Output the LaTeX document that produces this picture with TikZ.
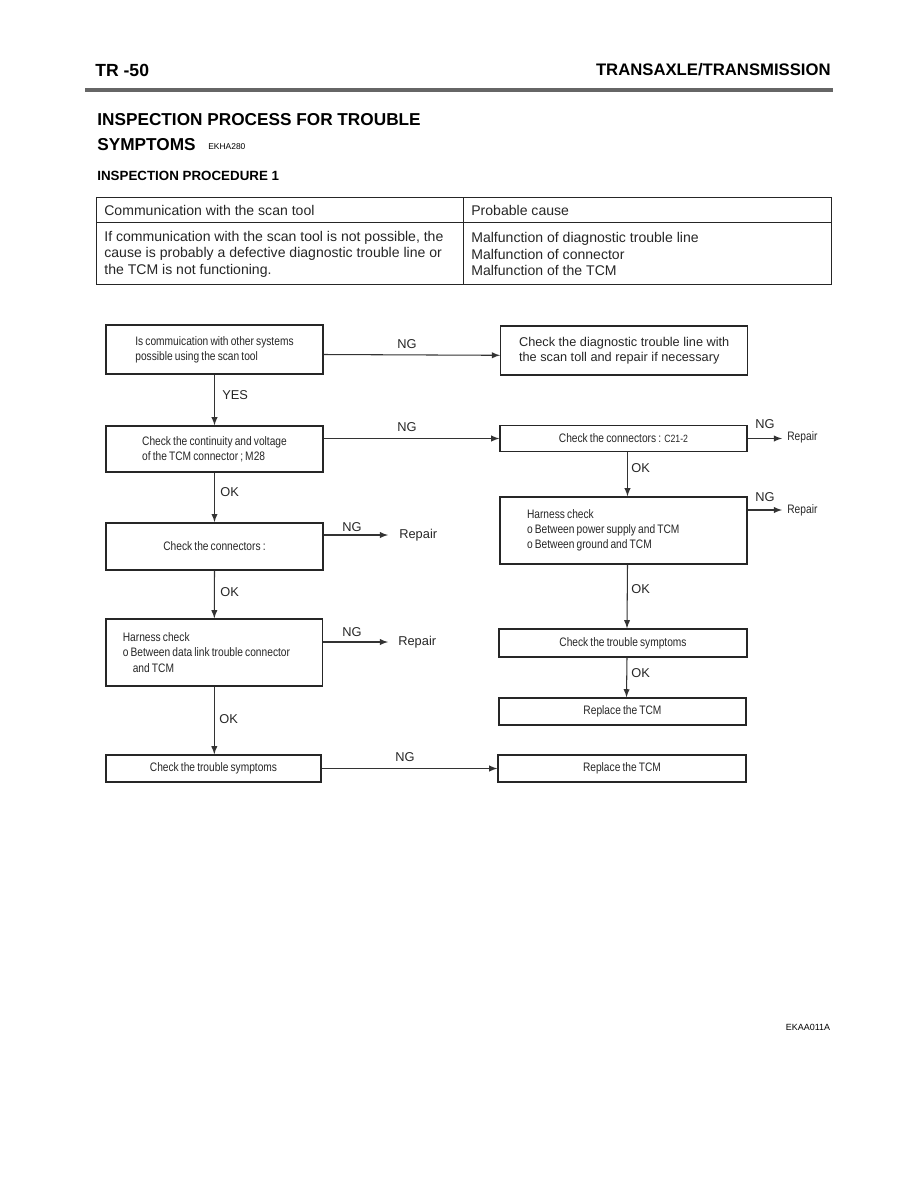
\documentclass[tikz,border=0pt]{standalone}
\usepackage{fontspec}
\setmainfont{Liberation Sans}
\newfontfamily\boxfont[FakeStretch=0.83, WordSpace=0.75]{Liberation Sans}

\tikzset{
    box/.style={draw=black!85, line width=0.8pt, text=black!85,
        font=\boxfont\fontsize{7}{8.6}\selectfont},
    arr/.style={-latex, line width=0.6pt, draw=black!80},
    lab/.style={font=\fontsize{7.3}{9}\selectfont, text=black!85, inner sep=0pt},
    tab/.style={font=\fontsize{8}{9.4}\selectfont, text=black!85, inner sep=0pt, align=left},
}

\begin{document}
\begin{tikzpicture}[x=0.02cm, y=-0.02cm]
    \useasboundingbox (0,0) rectangle (918,1188);
    % Page header.
        \node[anchor=west, inner sep=0pt, font=\bfseries\fontsize{10}{12}\selectfont] (pagenum) at (95,70) {TR -50};
        \node[anchor=east, inner sep=0pt, font=\bfseries\fontsize{9.5}{12}\selectfont] (chapter) at (831,70) {TRANSAXLE/TRANSMISSION};
        \draw[black!60, line width=2pt] (85,90) -- (833,90);
    % Titles.
        \node[anchor=west, inner sep=0pt, font=\bfseries\fontsize{9.8}{12}\selectfont] (title) at (97,120) {INSPECTION PROCESS FOR TROUBLE};
        \node[anchor=west, inner sep=0pt, font=\bfseries\fontsize{9.8}{12}\selectfont] (title2) at (97,145) {SYMPTOMS};
        \node[anchor=west, inner sep=0pt, font=\fontsize{4.8}{6}\selectfont] (code) at (208,147) {EKHA280};
        \node[anchor=west, inner sep=0pt, font=\bfseries\fontsize{7.6}{9}\selectfont] (proc) at (97,176) {INSPECTION PROCEDURE 1};
    % The table.
        \draw[black!85, line width=0.5pt] (96,197) rectangle (831,284);
        \draw[black!85, line width=0.5pt] (96,222) -- (831,222);
        \draw[black!85, line width=0.5pt] (463,197) -- (463,284);
        \node[tab, anchor=west] (headA) at (104,210) {Communication with the scan tool};
        \node[tab, anchor=west] (headB) at (471,210) {Probable cause};
        \node[tab, anchor=west] (cellA) at (104,254) {If communication with the scan tool is not possible, the\\cause is probably a defective diagnostic trouble line or\\the TCM is not functioning.};
        \node[tab, anchor=west] (cellB) at (471,254) {Malfunction of diagnostic trouble line\\Malfunction of connector\\Malfunction of the TCM};
    % Left column boxes.
        \node[box, minimum width=4.34cm, minimum height=0.98cm, align=left] (isComm) at (214.5,349.5) {Is commuication with other systems\\possible using the scan tool};
        \node[box, minimum width=4.34cm, minimum height=0.92cm, align=left] (checkCont) at (214.5,449) {Check the continuity and voltage\\of the TCM connector ; M28};
        \node[box, minimum width=4.34cm, minimum height=0.94cm] (checkConn) at (214.5,546.3) {Check the connectors :};
        \node[box, text width=3.66cm, inner xsep=0.34cm, minimum height=1.34cm, align=flush left] (harnessData) at (214.3,652.5) {Harness check\\o Between data link trouble connector\\\hspace*{0.2cm}and TCM};
        \node[box, minimum width=4.30cm, minimum height=0.54cm] (checkSym) at (213.5,768.5) {Check the trouble symptoms};
    % Right column boxes.
        \node[box, minimum width=4.94cm, minimum height=0.98cm, align=left, font=\fontsize{7.25}{8.6}\selectfont] (checkLine) at (624.2,350.3) {Check the diagnostic trouble line with\\the scan toll and repair if necessary};
        \node[box, minimum width=4.94cm, minimum height=0.52cm] (checkC21) at (623.5,438.5) {Check the connectors : {\fontsize{6}{7}\selectfont C21-2}};
        \node[box, text width=3.86cm, inner xsep=0.54cm, minimum height=1.34cm, align=flush left] (harnessPwr) at (623.5,530.5) {Harness check\\o Between power supply and TCM\\o Between ground and TCM};
        \node[box, minimum width=4.96cm, minimum height=0.56cm] (checkSym2) at (623,643) {Check the trouble symptoms};
        \node[box, minimum width=4.94cm, minimum height=0.54cm] (replaceA) at (622.5,711.5) {Replace the TCM};
        \node[box, minimum width=4.96cm, minimum height=0.54cm] (replaceB) at (622,768.5) {Replace the TCM};
    % Repair ends.
        \node[lab, anchor=west, inner xsep=0.22cm] (repairA) at (388,535) {Repair};
        \node[lab, anchor=west, inner xsep=0.2cm] (repairB) at (388,642) {Repair};
        \node[lab, anchor=west, inner xsep=0.1cm, font=\boxfont\fontsize{7}{8.6}\selectfont] (repairC) at (782,437) {Repair};
        \node[lab, anchor=west, inner xsep=0.1cm, font=\boxfont\fontsize{7}{8.6}\selectfont] (repairD) at (782,510) {Repair};
    % Connectors.
        \draw[arr] ([yshift=-0.1cm]isComm.east) -- ([yshift=-0.1cm]checkLine.west);
        \draw[arr] (isComm.south) -- (checkCont.north);
        \draw[arr] (checkCont.east |- checkC21.west) -- (checkC21.west);
        \draw[arr] (checkCont.south) -- (checkConn.north);
        \draw[arr] (checkConn.east |- repairA.west) -- (repairA.west);
        \draw[arr] (checkConn.south) -- (harnessData.north);
        \draw[arr] (harnessData.east |- repairB.west) -- (repairB.west);
        \draw[arr] (harnessData.south) -- (harnessData.south |- checkSym.north);
        \draw[arr] (checkSym.east) -- (checkSym.east -| replaceB.west);
        \draw[arr] (checkC21.east) -- (checkC21.east -| repairC.west);
        \draw[arr] ([xshift=0.08cm]checkC21.south) -- ([xshift=0.08cm]harnessPwr.north);
        \draw[arr] (harnessPwr.east |- repairD.west) -- (repairD.west);
        \draw[arr] ([xshift=0.08cm]harnessPwr.south) -- ([xshift=0.08cm]checkSym2.north);
        \draw[arr] ([xshift=0.08cm]checkSym2.south) -- ([xshift=0.08cm]replaceA.north);
    % Below nodes are the labels.
        \node[lab] (ngA) at (407,344) {NG};
        \node[lab, anchor=west] (yesA) at (222,395) {YES};
        \node[lab] (ngB) at (407,427) {NG};
        \node[lab, anchor=west] (okA) at (220,492) {OK};
        \node[lab] (ngC) at (352,527) {NG};
        \node[lab, anchor=west] (okB) at (220,592) {OK};
        \node[lab] (ngD) at (352,632) {NG};
        \node[lab, anchor=west] (okC) at (219,719) {OK};
        \node[lab] (ngE) at (405,757) {NG};
        \node[lab] (ngF) at (765,424) {NG};
        \node[lab, anchor=west] (okD) at (631,468) {OK};
        \node[lab] (ngG) at (765,497) {NG};
        \node[lab, anchor=west] (okE) at (631,589) {OK};
        \node[lab, anchor=west] (okF) at (631,673) {OK};
    % Figure code.
        \node[inner sep=0pt, font=\fontsize{5.1}{6}\selectfont] (figcode) at (808,1027) {EKAA011A};
\end{tikzpicture}
\end{document}
